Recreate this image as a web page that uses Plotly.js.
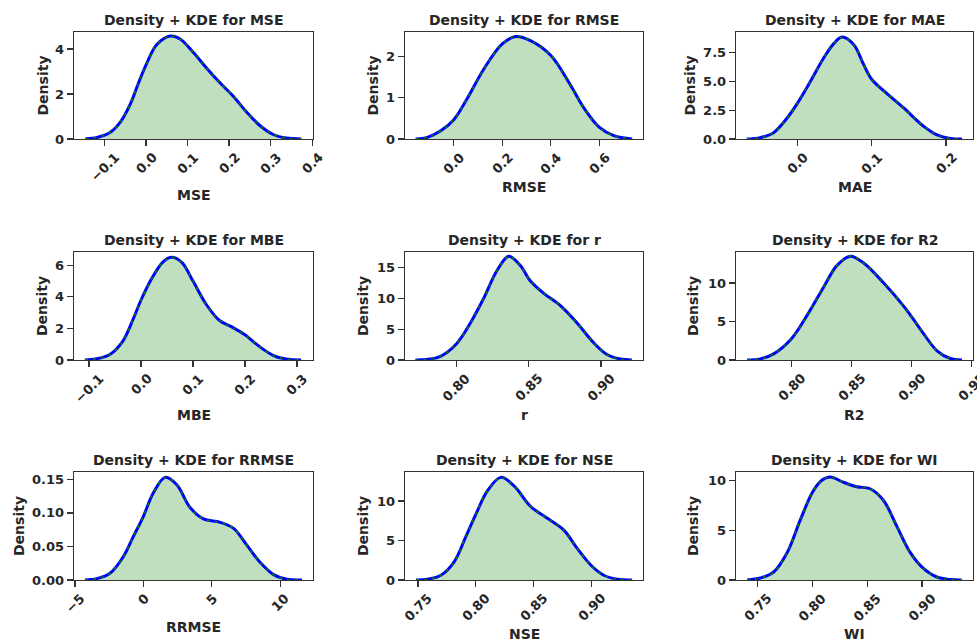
<!DOCTYPE html>
<html><head><meta charset="utf-8">
<script src="https://cdn.plot.ly/plotly-3.0.1.min.js"></script>
<style>html,body{margin:0;padding:0;background:#fff}#chart{width:977px;height:641px}</style>
</head><body><div id="chart"></div>
<script>
// ---- data (KDE curves) ----
const mseX = [-0.146,-0.118,-0.086,-0.062,-0.038,-0.018,0.0,0.026,0.058,0.082,0.114,0.146,0.178,0.210,0.242,0.274,0.306,0.338,0.374];
const mseY = [0.01,0.07,0.30,0.75,1.55,2.50,3.30,4.20,4.58,4.45,3.85,3.15,2.50,1.90,1.20,0.60,0.20,0.04,0.0];

const rmseX = [-0.156,-0.108,-0.053,0.0,0.056,0.125,0.200,0.255,0.316,0.400,0.481,0.536,0.600,0.659,0.734];
const rmseY = [0.0,0.04,0.20,0.46,0.98,1.70,2.30,2.48,2.38,2.02,1.30,0.75,0.28,0.08,0.0];

const maeX = [-0.068,-0.050,-0.032,-0.014,0.0,0.0175,0.035,0.049,0.060,0.076,0.089,0.100,0.116,0.143,0.170,0.188,0.206,0.2215];
const maeY = [0.0,0.12,0.55,1.80,3.10,5.00,7.00,8.30,8.87,8.20,6.50,5.20,4.20,2.70,1.10,0.35,0.05,0.0];

const mbeX = [-0.108,-0.086,-0.060,-0.035,-0.015,0.0,0.023,0.042,0.058,0.078,0.100,0.126,0.151,0.177,0.200,0.228,0.254,0.279,0.308];
const mbeY = [0.0,0.08,0.35,1.20,2.60,3.80,5.30,6.20,6.50,6.20,5.00,3.50,2.50,2.05,1.60,0.85,0.30,0.06,0.0];

const rX = [0.7717,0.7797,0.7890,0.8000,0.8097,0.8189,0.8281,0.8362,0.8442,0.8512,0.8604,0.8719,0.8834,0.8949,0.9041,0.9134,0.9214];
const rY = [0.0,0.08,0.60,2.60,6.00,10.0,14.5,16.8,15.3,12.8,10.8,8.8,6.0,2.8,0.9,0.15,0.0];

const r2X = [0.7628,0.7739,0.7850,0.8000,0.8128,0.8267,0.8378,0.8489,0.8600,0.8767,0.8933,0.9000,0.9100,0.9211,0.9322,0.9419];
const r2Y = [0.0,0.15,0.80,2.80,5.80,9.50,12.3,13.5,12.6,10.0,7.0,5.6,3.4,1.2,0.2,0.0];

const rrmseX = [-4.27,-3.41,-2.44,-1.46,-0.73,0.0,0.73,1.59,2.44,3.41,4.39,5.61,6.59,7.56,8.54,9.51,10.49,11.59];
const rrmseY = [0.0,0.002,0.010,0.035,0.065,0.095,0.130,0.153,0.142,0.108,0.091,0.086,0.077,0.052,0.026,0.008,0.001,0.0];

const nseX = [0.7483,0.7583,0.7698,0.7813,0.7914,0.8000,0.8101,0.8216,0.8330,0.8474,0.8618,0.8761,0.8876,0.9000,0.9106,0.9221,0.9351];
const nseY = [0.0,0.10,0.60,2.30,5.50,8.30,11.3,12.98,11.9,9.3,7.8,6.3,4.0,1.8,0.6,0.1,0.0];

const wiX = [0.7403,0.7524,0.7646,0.7767,0.7888,0.8000,0.8085,0.8161,0.8283,0.8404,0.8526,0.8647,0.8769,0.8890,0.9000,0.9135,0.9257,0.9363];
const wiY = [0.0,0.20,0.80,2.70,6.00,8.80,10.0,10.33,9.80,9.35,9.15,8.00,5.40,2.80,1.30,0.30,0.04,0.0];

// ---- tick values / labels ----
const mseXT = [-0.1,0.0,0.1,0.2,0.3,0.4], mseXL = ['−0.1','0.0','0.1','0.2','0.3','0.4'];
const mseYT = [0,2,4], mseYL = ['0','2','4'];
const rmseXT = [0.0,0.2,0.4,0.6], rmseXL = ['0.0','0.2','0.4','0.6'];
const rmseYT = [0,1,2], rmseYL = ['0','1','2'];
const maeXT = [0.0,0.1,0.2], maeXL = ['0.0','0.1','0.2'];
const maeYT = [0,2.5,5,7.5], maeYL = ['0.0','2.5','5.0','7.5'];
const mbeXT = [-0.1,0.0,0.1,0.2,0.3], mbeXL = ['−0.1','0.0','0.1','0.2','0.3'];
const mbeYT = [0,2,4,6], mbeYL = ['0','2','4','6'];
const rXT = [0.80,0.85,0.90], rXL = ['0.80','0.85','0.90'];
const rYT = [0,5,10,15], rYL = ['0','5','10','15'];
const r2XT = [0.80,0.85,0.90,0.95], r2XL = ['0.80','0.85','0.90','0.95'];
const r2YT = [0,5,10], r2YL = ['0','5','10'];
const rrmseXT = [-5,0,5,10], rrmseXL = ['−5','0','5','10'];
const rrmseYT = [0,0.05,0.10,0.15], rrmseYL = ['0.00','0.05','0.10','0.15'];
const nseXT = [0.75,0.80,0.85,0.90], nseXL = ['0.75','0.80','0.85','0.90'];
const nseYT = [0,5,10], nseYL = ['0','5','10'];
const wiXT = [0.75,0.80,0.85,0.90], wiXL = ['0.75','0.80','0.85','0.90'];
const wiYT = [0,5,10], wiYL = ['0','5','10'];

// ---- layout geometry (pixels) ----
const W = 977, H = 641;
const cols = [[74,313],[405,643],[736,973]];
const rows = [[32,139],[252,360],[472,580]];

const panels = [
  {name:'MSE',   x:mseX,   y:mseY,   xr:[-0.1735,0.402], yr:[0,4.76], xt:mseXT, xl:mseXL, yt:mseYT, yl:mseYL, ylab:42,  xlab:195},
  {name:'RMSE',  x:rmseX,  y:rmseY,  xr:[-0.200,0.779],  yr:[0,2.59], xt:rmseXT, xl:rmseXL, yt:rmseYT, yl:rmseYL, ylab:372, xlab:187},
  {name:'MAE',   x:maeX,   y:maeY,   xr:[-0.0825,0.2363],yr:[0,9.31], xt:maeXT, xl:maeXL, yt:maeYT, yl:maeYL, ylab:689, xlab:187},
  {name:'MBE',   x:mbeX,   y:mbeY,   xr:[-0.129,0.331],  yr:[0,6.84], xt:mbeXT, xl:mbeXL, yt:mbeYT, yl:mbeYL, ylab:42,  xlab:415},
  {name:'r',     x:rX,     y:rY,     xr:[0.7645,0.929],  yr:[0,17.5], xt:rXT, xl:rXL, yt:rYT, yl:rYL, ylab:363, xlab:415},
  {name:'R2',    x:r2X,    y:r2Y,    xr:[0.7536,0.9511], yr:[0,14.04],xt:r2XT, xl:r2XL, yt:r2YT, yl:r2YL, ylab:693, xlab:415},
  {name:'RRMSE', x:rrmseX, y:rrmseY, xr:[-5.07,12.39],   yr:[0,0.161],xt:rrmseXT, xl:rrmseXL, yt:rrmseYT, yl:rrmseYL, ylab:19, xlab:627},
  {name:'NSE',   x:nseX,   y:nseY,   xr:[0.7388,0.9445], yr:[0,13.66],xt:nseXT, xl:nseXL, yt:nseYT, yl:nseYL, ylab:363, xlab:634},
  {name:'WI',    x:wiX,    y:wiY,    xr:[0.7302,0.9465], yr:[0,10.83],xt:wiXT, xl:wiXL, yt:wiYT, yl:wiYL, ylab:693, xlab:634}
];

const FONT = 'DejaVu Sans, Liberation Sans, sans-serif';
const TXT = '#262626';
const tickFont = {family:FONT, size:13, weight:700, color:TXT};
const labFont = {family:FONT, size:14, weight:700, color:TXT};

const traces = [];
const layout = {
  width:W, height:H, margin:{l:0,r:0,t:0,b:0},
  paper_bgcolor:'#fff', plot_bgcolor:'#fff', showlegend:false,
  annotations:[]
};

panels.forEach((p,i)=>{
  const s = i===0 ? '' : String(i+1);
  const c = cols[i%3], r = rows[Math.floor(i/3)];
  const xa = 'x'+s, ya = 'y'+s;
  traces.push({type:'scatter', mode:'lines', x:p.x, y:p.y, xaxis:xa, yaxis:ya,
    fill:'tozeroy', fillcolor:'rgba(0,128,0,0.25)', line:{width:0, shape:'spline', smoothing:1}, hoverinfo:'skip'});
  traces.push({type:'scatter', mode:'lines', x:p.x, y:p.y, xaxis:xa, yaxis:ya,
    line:{color:'blue', width:3, shape:'spline', smoothing:1}});
  traces.push({type:'scatter', mode:'lines', x:p.x, y:p.y, xaxis:xa, yaxis:ya,
    line:{color:'green', width:1.6, dash:'3px,5px', shape:'spline', smoothing:1}});
  const axCommon = {showgrid:false, zeroline:false, showline:true, mirror:true,
    linecolor:'#333', linewidth:1.25, ticks:'outside', ticklen:6, tickwidth:1.25, tickcolor:'#333', fixedrange:true};
  layout['xaxis'+s] = Object.assign({}, axCommon, {domain:[c[0]/W, c[1]/W], range:p.xr, anchor:ya,
    tickmode:'array', tickvals:p.xt, showticklabels:false});
  layout['yaxis'+s] = Object.assign({}, axCommon, {domain:[1-r[1]/H, 1-r[0]/H], range:p.yr, anchor:xa,
    tickmode:'array', tickvals:p.yt, ticktext:p.yl, tickfont:tickFont});
  // x tick labels rotated 45°, centred on the tick
  p.xt.forEach((v,j)=>{
    layout.annotations.push({xref:xa, yref:'paper', x:v, y:1-r[1]/H, xanchor:'center', yanchor:'top',
      yshift:-8, textangle:-45, text:p.xl[j], showarrow:false, font:tickFont});
  });
  // subplot title
  layout.annotations.push({xref:'paper', yref:'paper', x:(c[0]+c[1])/2/W, y:1-(r[0]-12)/H,
    xanchor:'center', yanchor:'middle', text:'Density + KDE for '+p.name, showarrow:false, font:labFont});
  // x axis label
  layout.annotations.push({xref:'paper', yref:'paper', x:(c[0]+c[1])/2/W, y:1-p.xlab/H,
    xanchor:'center', yanchor:'middle', text:p.name, showarrow:false, font:labFont});
  // y axis label
  layout.annotations.push({xref:'paper', yref:'paper', x:p.ylab/W, y:1-(r[0]+r[1])/2/H,
    xanchor:'center', yanchor:'middle', textangle:-90, text:'Density', showarrow:false, font:labFont});
});

Plotly.newPlot('chart', traces, layout, {displayModeBar:false, staticPlot:true});
</script>
</body></html>
